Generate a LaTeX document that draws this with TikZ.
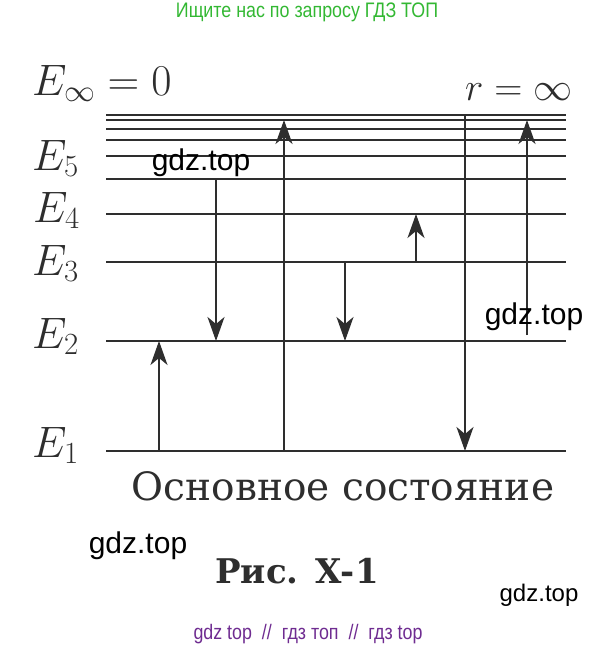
\RequirePackage{fix-cm}
\documentclass[tikz,border=0pt]{standalone}
\usepackage{amsmath}
\usepackage{fontspec}
\usepackage{tikz}
\usetikzlibrary{arrows.meta, calc}
\newfontfamily\capFont{DejaVu Serif}
\newfontfamily\markFont{Liberation Sans}
\newfontfamily\markNarrow[FakeStretch=0.85]{Liberation Sans}
\definecolor{inkGray}{HTML}{2E2E2E}
\definecolor{markGreen}{HTML}{33B833}
\definecolor{markPurple}{HTML}{6F2C91}
\newcommand{\DrawLevel}[2]{
    \draw[levelLine] (106, #2) coordinate (#1) -- (566, #2);
}
\tikzset{
    % Levels
    levelLine/.style={draw=inkGray, line width=2.5pt},
    levelLabel/.style={anchor=base west, inner sep=0pt, text=inkGray, font=\fontsize{44}{52}\selectfont},
    % Transitions
    transArrow/.style={-{Stealth[length=24pt, width=17pt, inset=7pt]}, draw=inkGray, line width=1.7pt},
    % Captions
    stateText/.style={anchor=base, inner sep=0pt, text=inkGray, font=\capFont\fontsize{39}{46}\selectfont},
    figText/.style={anchor=base, inner sep=0pt, text=inkGray, font=\capFont\bfseries\fontsize{34}{40}\selectfont},
    % Watermarks
    markText/.style={inner sep=0pt, text=black, font=\markFont\fontsize{30}{34}\selectfont},
    markSmall/.style={inner sep=0pt, font=\markNarrow\fontsize{21}{24}\selectfont}
}

\begin{document}
\begin{tikzpicture}[x=1pt, y=-1pt]
    \fill[white] (0,0) rectangle (614,648);
    \useasboundingbox (0,0) rectangle (614,648);

    % Energy levels
    \DrawLevel{lvInf}{115}
    \DrawLevel{lv9}{120}
    \DrawLevel{lv8}{129}
    \DrawLevel{lv7}{140}
    \DrawLevel{lv6}{156}
    \DrawLevel{lv5}{179}
    \DrawLevel{lv4}{214}
    \DrawLevel{lv3}{262}
    \DrawLevel{lv2}{341}
    \DrawLevel{lv1}{451}

    % Labels
    \node[levelLabel] (labInf) at (32, 95) {$E_\infty = 0$};
    \node[levelLabel, font=\fontsize{39}{46}\selectfont] (labR) at (465, 100) {$r = \infty$};
    \node[levelLabel] (lab5) at (32, 170) {$E_5$};
    \node[levelLabel] (lab4) at (33, 222) {$E_4$};
    \node[levelLabel] (lab3) at (32, 275) {$E_3$};
    \node[levelLabel] (lab2) at (32, 348) {$E_2$};
    \node[levelLabel] (lab1) at (32, 457) {$E_1$};

    % Transitions
    \coordinate (colA) at (159, 0);
    \coordinate (colB) at (216, 0);
    \coordinate (colC) at (284, 0);
    \coordinate (colD) at (345, 0);
    \coordinate (colE) at (416, 0);
    \coordinate (colF) at (465, 0);
    \coordinate (colG) at (527, 0);
    \coordinate (ionStart) at ($(colG |- lv2)+(0,-6)$);
    \draw[transArrow] (colA |- lv1) -- (colA |- lv2);
    \draw[transArrow] (colB |- lv5) -- (colB |- lv2);
    \draw[transArrow] (colC |- lv1) -- (colC |- lv9);
    \draw[transArrow] (colD |- lv3) -- (colD |- lv2);
    \draw[transArrow] (colE |- lv3) -- (colE |- lv4);
    \draw[transArrow] (colF |- lvInf) -- (colF |- lv1);
    \draw[transArrow] (ionStart) -- (colG |- lv9);

    % Captions
    \node[stateText] (ground) at (343, 500) {Основное состояние};
    \node[figText] (figName) at (297, 583) {Рис.\enspace X-1};

    % Watermarks
    \node[markSmall, text=markGreen] (markTop) at (307, 12) {Ищите нас по запросу ГДЗ ТОП};
    \node[markText] (markA) at (201, 163) {gdz.top};
    \node[markText] (markB) at (534, 317) {gdz.top};
    \node[markText] (markC) at (138, 546) {gdz.top};
    \node[markText, font=\markFont\fontsize{24}{28}\selectfont] (markD) at (539, 595) {gdz.top};
    \node[markSmall, text=markPurple] (markBottom) at (308, 634) {gdz top~~//~~гдз топ~~//~~гдз top};
\end{tikzpicture}
\end{document}
